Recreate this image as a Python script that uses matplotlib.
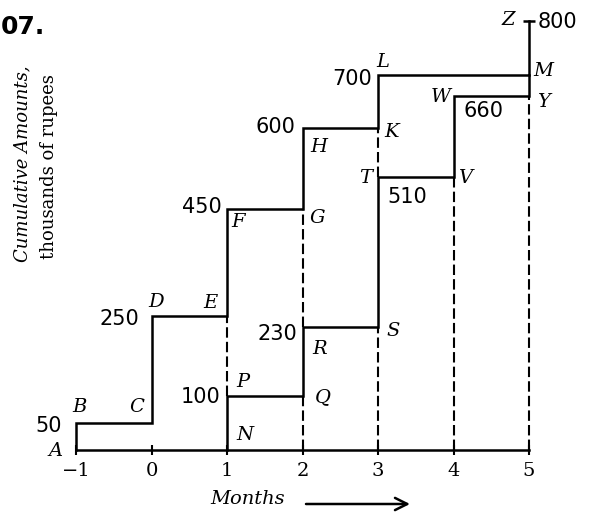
import matplotlib
matplotlib.use("Agg")
import matplotlib.pyplot as plt

# upper cumulative curve A-B-C-D-E-F-G-H-K-L-M-Z
upper_x = [-1, -1, 0, 0, 1, 1, 2, 2, 3, 3, 5, 5]
upper_y = [0, 50, 50, 250, 250, 450, 450, 600, 600, 700, 700, 800]

# lower cumulative curve N-P-Q-R-S-T-V-W-Y (joins M)
lower_x = [1, 1, 2, 2, 3, 3, 4, 4, 5, 5]
lower_y = [0, 100, 100, 230, 230, 510, 510, 660, 660, 700]

# dashed verticals: (month, from, to)
dash_x = [1, 2, 2, 3, 3, 4, 5]
dash_lo = [100, 0, 230, 0, 510, 0, 0]
dash_hi = [250, 100, 450, 230, 600, 510, 660]

months = [-1, 0, 1, 2, 3, 4, 5]
month_labels = ["\u22121", "0", "1", "2", "3", "4", "5"]

# point letters: (letter, x, y, dx px, dy px)
letters = [
    ("A", -1, 0, -20, 1), ("B", -1, 50, 3, -16), ("C", 0, 50, -15, -16),
    ("D", 0, 250, 5, -14), ("E", 1, 250, -17, -13), ("F", 1, 450, 11, 13),
    ("G", 2, 450, 15, 9), ("H", 2, 600, 16, 19), ("K", 3, 600, 14, 4),
    ("L", 3, 700, 5, -13), ("M", 5, 700, 14, -4), ("Z", 5, 800, -21, -1),
    ("N", 1, 0, 18, -15), ("P", 1, 100, 16, -14), ("Q", 2, 100, 20, 1),
    ("R", 2, 230, 17, 22), ("S", 3, 230, 15, 4), ("T", 3, 510, -12, 1),
    ("V", 4, 510, 12, 1), ("W", 4, 660, -13, 1), ("Y", 5, 660, 14, 6),
]

# amount labels: (x, y, dx px, dy px, align)
amounts = [
    (-1, 50, -14, 3, "right"), (0, 250, -12, 3, "right"),
    (1, 100, -7, 1, "right"), (1, 450, -5, -2, "right"),
    (2, 230, -5, 7, "right"), (2, 600, -7, -1, "right"),
    (3, 700, -6, 4, "right"), (3, 510, 9, 20, "left"),
    (4, 660, 10, 15, "left"), (5, 800, 9, 1, "left"),
]

fig = plt.figure(figsize=(5.89, 5.18), dpi=100)
ax = fig.add_axes([76 / 589, 68 / 518, 453 / 589, 429 / 518])
ax.set_xlim(-1, 5)
ax.set_ylim(0, 800)

ax.plot(upper_x, upper_y, color="black", lw=1.8, clip_on=False, solid_joinstyle="miter")
ax.plot(lower_x, lower_y, color="black", lw=1.8, clip_on=False, solid_joinstyle="miter")
for x, lo, hi in zip(dash_x, dash_lo, dash_hi):
    ax.plot([x, x], [lo, hi], color="black", lw=1.5, ls=(0, (5, 2)), clip_on=False)
ax.plot([5], [800], marker="_", ms=9, mew=1.8, color="black", clip_on=False)

for s in ["top", "right", "left"]:
    ax.spines[s].set_visible(False)
ax.spines["bottom"].set_linewidth(1.8)
ax.set_yticks([])
ax.set_xticks(months)
ax.set_xticklabels(month_labels, fontfamily="DejaVu Serif", fontsize=14)
ax.tick_params(axis="x", direction="inout", length=7, width=1.5, pad=5)

for t, x, y, dx, dy in letters:
    ax.annotate(t, (x, y), xytext=(dx, -dy), textcoords="offset pixels",
                ha="center", va="center", fontsize=14, style="italic",
                fontfamily="DejaVu Serif")

for x, y, dx, dy, al in amounts:
    ax.annotate(str(y), (x, y), xytext=(dx, -dy), textcoords="offset pixels",
                ha=al, va="center", fontsize=15, fontfamily="DejaVu Sans")

fig.text(22 / 589, 1 - 164 / 518, "Cumulative Amounts,", rotation=90,
         ha="center", va="center", fontsize=13, style="italic", fontfamily="DejaVu Serif")
fig.text(49 / 589, 1 - 167 / 518, "thousands of rupees", rotation=90,
         ha="center", va="center", fontsize=13, fontfamily="DejaVu Serif")

fig.text(248 / 589, 1 - 499 / 518, "Months", ha="center", va="center",
         fontsize=14, style="italic", fontfamily="DejaVu Serif")
ax.annotate("", xy=(410, 518 - 504), xytext=(306, 518 - 504),
            xycoords="figure pixels", textcoords="figure pixels",
            arrowprops=dict(arrowstyle="->", lw=1.8, color="black",
                            mutation_scale=22, shrinkA=0, shrinkB=0))

fig.text(1 / 589, 1 - 27 / 518, "07.", ha="left", va="center",
         fontsize=18, fontweight="bold", fontfamily="DejaVu Sans")

fig.savefig("out.png", dpi=100)
